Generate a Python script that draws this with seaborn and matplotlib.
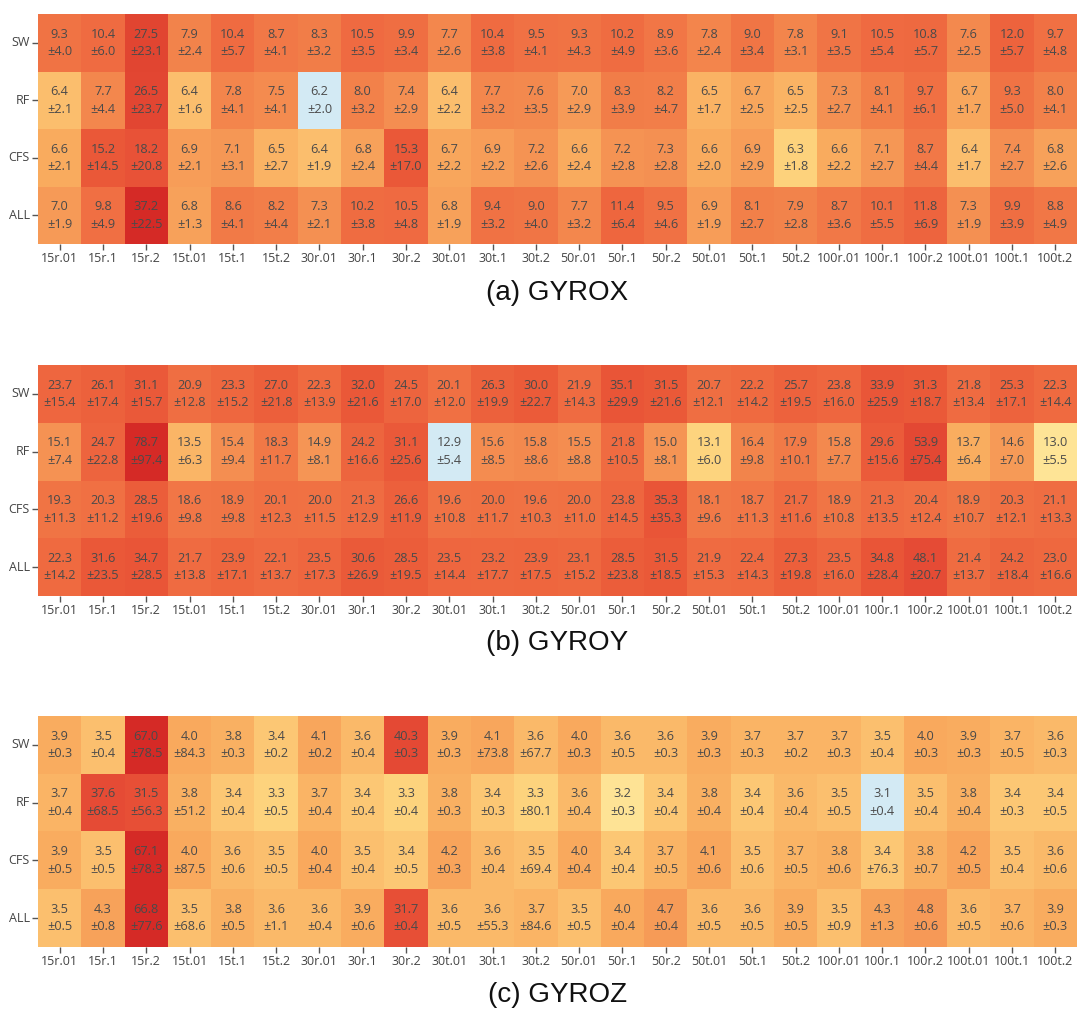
import numpy as np
import pandas as pd
import seaborn as sns
import matplotlib
matplotlib.use("Agg")
import matplotlib.pyplot as plt
import matplotlib.colors as mcolors

sns.set_theme(style="ticks")
plt.rcParams['font.family'] = ['Open Sans', 'DejaVu Sans']

columns = ['15r.01', '15r.1', '15r.2', '15t.01', '15t.1', '15t.2',
           '30r.01', '30r.1', '30r.2', '30t.01', '30t.1', '30t.2',
           '50r.01', '50r.1', '50r.2', '50t.01', '50t.1', '50t.2',
           '100r.01', '100r.1', '100r.2', '100t.01', '100t.1', '100t.2']
rows = ['SW', 'RF', 'CFS', 'ALL']

gyrox_mean = [
    [9.3, 10.4, 27.5, 7.9, 10.4, 8.7, 8.3, 10.5, 9.9, 7.7, 10.4, 9.5, 9.3, 10.2, 8.9, 7.8, 9.0, 7.8, 9.1, 10.5, 10.8, 7.6, 12.0, 9.7],
    [6.4, 7.7, 26.5, 6.4, 7.8, 7.5, 6.2, 8.0, 7.4, 6.4, 7.7, 7.6, 7.0, 8.3, 8.2, 6.5, 6.7, 6.5, 7.3, 8.1, 9.7, 6.7, 9.3, 8.0],
    [6.6, 15.2, 18.2, 6.9, 7.1, 6.5, 6.4, 6.8, 15.3, 6.7, 6.9, 7.2, 6.6, 7.2, 7.3, 6.6, 6.9, 6.3, 6.6, 7.1, 8.7, 6.4, 7.4, 6.8],
    [7.0, 9.8, 37.2, 6.8, 8.6, 8.2, 7.3, 10.2, 10.5, 6.8, 9.4, 9.0, 7.7, 11.4, 9.5, 6.9, 8.1, 7.9, 8.7, 10.1, 11.8, 7.3, 9.9, 8.8],
]
gyrox_std = [
    [4.0, 6.0, 23.1, 2.4, 5.7, 4.1, 3.2, 3.5, 3.4, 2.6, 3.8, 4.1, 4.3, 4.9, 3.6, 2.4, 3.4, 3.1, 3.5, 5.4, 5.7, 2.5, 5.7, 4.8],
    [2.1, 4.4, 23.7, 1.6, 4.1, 4.1, 2.0, 3.2, 2.9, 2.2, 3.2, 3.5, 2.9, 3.9, 4.7, 1.7, 2.5, 2.5, 2.7, 4.1, 6.1, 1.7, 5.0, 4.1],
    [2.1, 14.5, 20.8, 2.1, 3.1, 2.7, 1.9, 2.4, 17.0, 2.2, 2.2, 2.6, 2.4, 2.8, 2.8, 2.0, 2.9, 1.8, 2.2, 2.7, 4.4, 1.7, 2.7, 2.6],
    [1.9, 4.9, 22.5, 1.3, 4.1, 4.4, 2.1, 3.8, 4.8, 1.9, 3.2, 4.0, 3.2, 6.4, 4.6, 1.9, 2.7, 2.8, 3.6, 5.5, 6.9, 1.9, 3.9, 4.9],
]

gyroy_mean = [
    [23.7, 26.1, 31.1, 20.9, 23.3, 27.0, 22.3, 32.0, 24.5, 20.1, 26.3, 30.0, 21.9, 35.1, 31.5, 20.7, 22.2, 25.7, 23.8, 33.9, 31.3, 21.8, 25.3, 22.3],
    [15.1, 24.7, 78.7, 13.5, 15.4, 18.3, 14.9, 24.2, 31.1, 12.9, 15.6, 15.8, 15.5, 21.8, 15.0, 13.1, 16.4, 17.9, 15.8, 29.6, 53.9, 13.7, 14.6, 13.0],
    [19.3, 20.3, 28.5, 18.6, 18.9, 20.1, 20.0, 21.3, 26.6, 19.6, 20.0, 19.6, 20.0, 23.8, 35.3, 18.1, 18.7, 21.7, 18.9, 21.3, 20.4, 18.9, 20.3, 21.1],
    [22.3, 31.6, 34.7, 21.7, 23.9, 22.1, 23.5, 30.6, 28.5, 23.5, 23.2, 23.9, 23.1, 28.5, 31.5, 21.9, 22.4, 27.3, 23.5, 34.8, 48.1, 21.4, 24.2, 23.0],
]
gyroy_std = [
    [15.4, 17.4, 15.7, 12.8, 15.2, 21.8, 13.9, 21.6, 17.0, 12.0, 19.9, 22.7, 14.3, 29.9, 21.6, 12.1, 14.2, 19.5, 16.0, 25.9, 18.7, 13.4, 17.1, 14.4],
    [7.4, 22.8, 97.4, 6.3, 9.4, 11.7, 8.1, 16.6, 25.6, 5.4, 8.5, 8.6, 8.8, 10.5, 8.1, 6.0, 9.8, 10.1, 7.7, 15.6, 75.4, 6.4, 7.0, 5.5],
    [11.3, 11.2, 19.6, 9.8, 9.8, 12.3, 11.5, 12.9, 11.9, 10.8, 11.7, 10.3, 11.0, 14.5, 35.3, 9.6, 11.3, 11.6, 10.8, 13.5, 12.4, 10.7, 12.1, 13.3],
    [14.2, 23.5, 28.5, 13.8, 17.1, 13.7, 17.3, 26.9, 19.5, 14.4, 17.7, 17.5, 15.2, 23.8, 18.5, 15.3, 14.3, 19.8, 16.0, 28.4, 20.7, 13.7, 18.4, 16.6],
]

gyroz_mean = [
    [3.9, 3.5, 67.0, 4.0, 3.8, 3.4, 4.1, 3.6, 40.3, 3.9, 4.1, 3.6, 4.0, 3.6, 3.6, 3.9, 3.7, 3.7, 3.7, 3.5, 4.0, 3.9, 3.7, 3.6],
    [3.7, 37.6, 31.5, 3.8, 3.4, 3.3, 3.7, 3.4, 3.3, 3.8, 3.4, 3.3, 3.6, 3.2, 3.4, 3.8, 3.4, 3.6, 3.5, 3.1, 3.5, 3.8, 3.4, 3.4],
    [3.9, 3.5, 67.1, 4.0, 3.6, 3.5, 4.0, 3.5, 3.4, 4.2, 3.6, 3.5, 4.0, 3.4, 3.7, 4.1, 3.5, 3.7, 3.8, 3.4, 3.8, 4.2, 3.5, 3.6],
    [3.5, 4.3, 66.8, 3.5, 3.8, 3.6, 3.6, 3.9, 31.7, 3.6, 3.6, 3.7, 3.5, 4.0, 4.7, 3.6, 3.6, 3.9, 3.5, 4.3, 4.8, 3.6, 3.7, 3.9],
]
gyroz_std = [
    [0.3, 0.4, 78.5, 84.3, 0.3, 0.2, 0.2, 0.4, 0.3, 0.3, 73.8, 67.7, 0.3, 0.5, 0.3, 0.3, 0.3, 0.2, 0.3, 0.4, 0.3, 0.3, 0.5, 0.3],
    [0.4, 68.5, 56.3, 51.2, 0.4, 0.5, 0.4, 0.4, 0.4, 0.3, 0.3, 80.1, 0.4, 0.3, 0.4, 0.4, 0.4, 0.4, 0.5, 0.4, 0.4, 0.4, 0.3, 0.5],
    [0.5, 0.5, 78.3, 87.5, 0.6, 0.5, 0.4, 0.4, 0.5, 0.3, 0.4, 69.4, 0.4, 0.4, 0.5, 0.6, 0.6, 0.5, 0.6, 76.3, 0.7, 0.5, 0.4, 0.6],
    [0.5, 0.8, 77.6, 68.6, 0.5, 1.1, 0.4, 0.6, 0.4, 0.5, 55.3, 84.6, 0.5, 0.4, 0.4, 0.5, 0.5, 0.5, 0.9, 1.3, 0.6, 0.5, 0.6, 0.3],
]

panels = [
    ("(a) GYROX", gyrox_mean, gyrox_std),
    ("(b) GYROY", gyroy_mean, gyroy_std),
    ("(c) GYROZ", gyroz_mean, gyroz_std),
]

# colour scale on log10 of the distance to the panel minimum,
# (share of range, colour); the minimum itself gets the light blue
LOG_FLOOR = -3.1
scale_stops = [
    (10 ** LOG_FLOOR, '#fef0a8'),
    (0.0015, '#fee496'),
    (0.003, '#fdd47e'),
    (0.0065, '#fbbe6d'),
    (0.013, '#f9ab5e'),
    (0.026, '#f69a57'),
    (0.058, '#f2814a'),
    (0.135, '#ef6b41'),
    (0.29, '#ea5838'),
    (0.55, '#e54b35'),
    (0.72, '#e04430'),
    (1.0, '#d52a26'),
]
stop_pos = [min(max((np.log10(t) - LOG_FLOOR) / -LOG_FLOOR, 0.0), 1.0) for t, _ in scale_stops]
stop_pos[0], stop_pos[-1] = 0.0, 1.0
cmap = mcolors.LinearSegmentedColormap.from_list(
    'gyro', list(zip(stop_pos, [c for _, c in scale_stops])), N=1024)
cmap.set_under('#d3eaf4')
cmap.set_bad('#d3eaf4')


def gap_norm(vals):
    lo, hi = np.min(vals), np.max(vals)
    floor = (hi - lo) * 10 ** LOG_FLOOR

    def fwd(x):
        return np.log10(np.maximum(x - lo, floor * 0.01))

    def inv(y):
        return lo + 10 ** y
    return mcolors.FuncNorm((fwd, inv), vmin=lo + floor, vmax=hi)


fig = plt.figure(figsize=(10.77, 10.10), dpi=100)

# [left, bottom, width, height] in figure fraction, title y
boxes = [
    ([0.0353, 0.7584, 0.9647, 0.2277], 0.7099),
    ([0.0353, 0.4099, 0.9647, 0.2287], 0.3634),
    ([0.0353, 0.0624, 0.9647, 0.2287], 0.0149),
]

for (title, mean, std), (box, ty) in zip(panels, boxes):
    ax = fig.add_axes(box)
    df = pd.DataFrame(mean, index=rows, columns=columns)
    labels = np.array([[f"{m:.1f}\n±{s:.1f}" for m, s in zip(mr, sr)]
                       for mr, sr in zip(mean, std)])
    sns.heatmap(df, ax=ax, cmap=cmap, norm=gap_norm(df.values), cbar=False,
                annot=labels, fmt="",
                annot_kws={"fontsize": 9.2, "color": "#4a4a4a", "linespacing": 1.45})
    ax.tick_params(axis='both', length=4, width=1, color='#555555',
                   labelsize=9, labelcolor='#444444', pad=2)
    ax.tick_params(axis='x', rotation=0)
    ax.tick_params(axis='y', rotation=0)
    ax.set_xlabel("")
    ax.set_ylabel("")
    fig.text(box[0] + box[2] / 2, ty, title, ha='center', va='center',
             fontsize=20, family=['Liberation Sans', 'DejaVu Sans'], color='#111111')

fig.savefig("out.png", dpi=100)
